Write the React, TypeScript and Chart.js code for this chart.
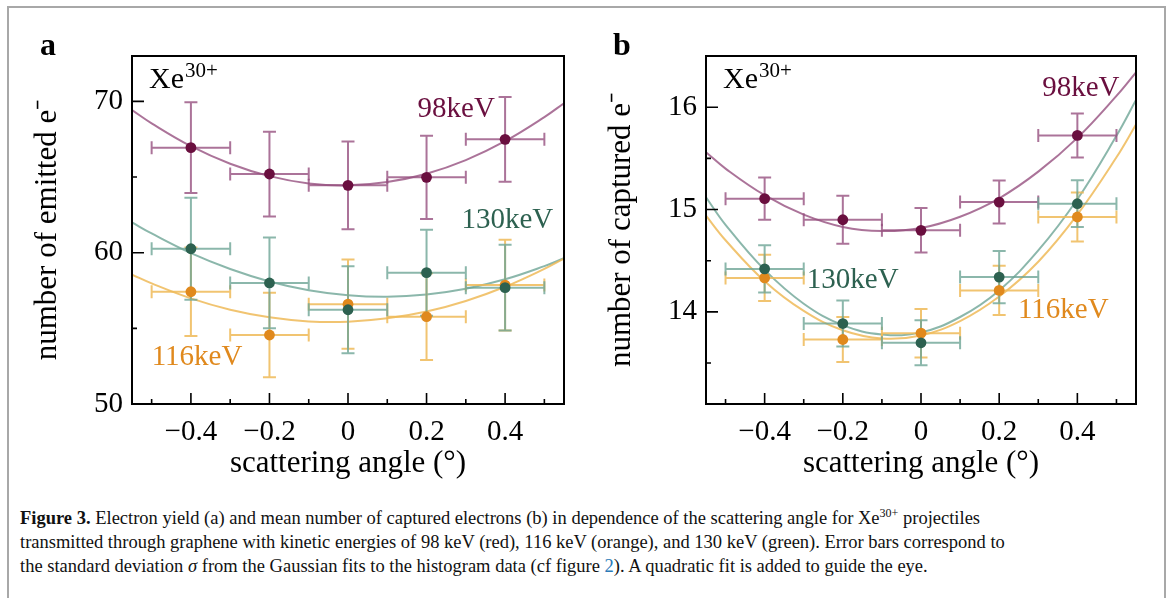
import React, { useEffect, useRef } from "react";
import { Chart, registerables } from "chart.js";

Chart.register(...registerables);

// ---------- data ----------
const angles = [-0.4, -0.2, 0, 0.2, 0.4];
const angleErr = [0.1, 0.1, 0.1, 0.1, 0.1];
const fitAngles = [-0.55, -0.5, -0.4, -0.3, -0.2, -0.1, 0, 0.1, 0.2, 0.3, 0.4, 0.5, 0.55];

const xMajorTicks = [-0.4, -0.2, 0, 0.2, 0.4];
const xTickLabels = ["\u22120.4", "\u22120.2", "0", "0.2", "0.4"];
const xMinorTicks = [-0.5, -0.3, -0.1, 0.1, 0.3, 0.5];

// panel a: number of emitted electrons
const emitted98 = [66.94, 65.2, 64.45, 64.98, 67.49];
const emitted98Err = [3.0, 2.8, 2.9, 2.75, 2.8];
const emitted116 = [57.42, 54.56, 56.6, 55.77, 57.86];
const emitted116Err = [2.93, 2.8, 2.95, 2.87, 3.0];
const emitted130 = [60.26, 58.0, 56.23, 58.68, 57.69];
const emitted130Err = [3.37, 3.0, 2.87, 2.84, 2.83];
const emittedFit98 = [69.43, 68.55, 67.04, 65.88, 65.06, 64.58, 64.45, 64.67, 65.22, 66.12, 67.37, 68.96, 69.88];
const emittedFit116 = [58.55, 57.97, 56.98, 56.23, 55.73, 55.46, 55.44, 55.66, 56.11, 56.81, 57.75, 58.93, 59.61];
const emittedFit130 = [62.0, 61.27, 59.97, 58.92, 58.1, 57.52, 57.19, 57.09, 57.24, 57.62, 58.24, 59.11, 59.63];
const emittedMajorTicks = [50, 60, 70];
const emittedTickLabels = ["50", "60", "70"];
const emittedMinorTicks = [55, 65];

// panel b: number of captured electrons
const captured98 = [15.106, 14.9, 14.797, 15.073, 15.724];
const captured98Err = [0.207, 0.235, 0.218, 0.21, 0.215];
const captured116 = [14.332, 13.73, 13.792, 14.21, 14.927];
const captured116Err = [0.225, 0.22, 0.237, 0.24, 0.24];
const captured130 = [14.42, 13.886, 13.698, 14.34, 15.057];
const captured130Err = [0.23, 0.225, 0.22, 0.255, 0.228];
const capturedFit98 = [15.56, 15.4, 15.14, 14.95, 14.83, 14.79, 14.82, 14.93, 15.11, 15.37, 15.7, 16.11, 16.34];
const capturedFit116 = [14.94, 14.7, 14.3, 14.01, 13.82, 13.74, 13.77, 13.91, 14.15, 14.49, 14.95, 15.51, 15.83];
const capturedFit130 = [15.12, 14.85, 14.41, 14.08, 13.87, 13.78, 13.8, 13.95, 14.21, 14.6, 15.1, 15.72, 16.07];
const capturedMajorTicks = [14, 15, 16];
const capturedTickLabels = ["14", "15", "16"];
const capturedMinorTicks = [13.5, 14.5, 15.5];

// ---------- styling ----------
const FONT = "'Liberation Serif', 'Times New Roman', serif";
const PURPLE = { dark: "#6a0f3f", light: "rgba(150, 80, 128, 0.8)" };
const ORANGE = { dark: "#e0891d", light: "rgba(238, 186, 88, 0.85)" };
const GREEN = { dark: "#2d6150", light: "rgba(110, 165, 150, 0.8)" };

type Series = {
  values: number[];
  errs: number[];
  fit: number[];
  color: { dark: string; light: string };
  label: string;
  lx: number;
  ly: number;
};

type Panel = {
  width: number;
  yMin: number;
  yMax: number;
  yMajor: number[];
  yLabels: string[];
  yMinor: number[];
  yTitle: string;
  yWidth: number;
  yTitlePad: number;
  padRight: number;
  series: Series[];
};

const panelA: Panel = {
  width: 584,
  yMin: 50,
  yMax: 73,
  yMajor: emittedMajorTicks,
  yLabels: emittedTickLabels,
  yMinor: emittedMinorTicks,
  yTitle: "number of emitted e\u207B",
  yWidth: 132,
  yTitlePad: 29,
  padRight: 20,
  series: [
    { values: emitted98, errs: emitted98Err, fit: emittedFit98, color: PURPLE, label: "98keV", lx: 0.177, ly: 68.97 },
    { values: emitted116, errs: emitted116Err, fit: emittedFit116, color: ORANGE, label: "116keV", lx: -0.5, ly: 52.58 },
    { values: emitted130, errs: emitted130Err, fit: emittedFit130, color: GREEN, label: "130keV", lx: 0.289, ly: 61.63 },
  ],
};

const panelB: Panel = {
  width: 584,
  yMin: 13.1,
  yMax: 16.5,
  yMajor: capturedMajorTicks,
  yLabels: capturedTickLabels,
  yMinor: capturedMinorTicks,
  yTitle: "number of captured e\u207B",
  yWidth: 122,
  yTitlePad: 19,
  padRight: 32,
  series: [
    { values: captured98, errs: captured98Err, fit: capturedFit98, color: PURPLE, label: "98keV", lx: 0.31, ly: 16.114 },
    { values: captured116, errs: captured116Err, fit: capturedFit116, color: ORANGE, label: "116keV", lx: 0.248, ly: 13.939 },
    { values: captured130, errs: captured130Err, fit: capturedFit130, color: GREEN, label: "130keV", lx: -0.292, ly: 14.231 },
  ],
};

function buildConfig(p: Panel): any {
  const datasets: any[] = [];
  p.series.forEach((s) =>
    datasets.push({
      type: "line",
      data: fitAngles.map((x, i) => ({ x, y: s.fit[i] })),
      borderColor: s.color.light,
      borderWidth: 2,
      pointRadius: 0,
      tension: 0.4,
      fill: false,
      order: 10,
    })
  );
  p.series.forEach((s, k) =>
    datasets.push({
      type: "scatter",
      data: angles.map((x, i) => ({ x, y: s.values[i] })),
      backgroundColor: s.color.dark,
      borderWidth: 0,
      pointRadius: 5.4,
      order: 3 - k,
    })
  );

  const nFits = p.series.length;

  const plugin = {
    id: "panelDecor",
    beforeDatasetDraw(chart: any, args: any) {
      if (args.index !== nFits) return;
      const ctx = chart.ctx;
      const xs = chart.scales.x;
      const ys = chart.scales.y;
      ctx.save();
      ctx.lineWidth = 2;
      const cap = 6.5;
      p.series.forEach((s) => {
        ctx.strokeStyle = s.color.light;
        angles.forEach((a, i) => {
          const cx = xs.getPixelForValue(a);
          const cy = ys.getPixelForValue(s.values[i]);
          const x0 = xs.getPixelForValue(a - angleErr[i]);
          const x1 = xs.getPixelForValue(a + angleErr[i]);
          const y0 = ys.getPixelForValue(s.values[i] - s.errs[i]);
          const y1 = ys.getPixelForValue(s.values[i] + s.errs[i]);
          ctx.beginPath();
          ctx.moveTo(x0, cy);
          ctx.lineTo(x1, cy);
          ctx.moveTo(x0, cy - cap);
          ctx.lineTo(x0, cy + cap);
          ctx.moveTo(x1, cy - cap);
          ctx.lineTo(x1, cy + cap);
          ctx.moveTo(cx, y0);
          ctx.lineTo(cx, y1);
          ctx.moveTo(cx - cap, y0);
          ctx.lineTo(cx + cap, y0);
          ctx.moveTo(cx - cap, y1);
          ctx.lineTo(cx + cap, y1);
          ctx.stroke();
        });
      });
      ctx.restore();
    },
    afterDraw(chart: any) {
      const ctx = chart.ctx;
      const xs = chart.scales.x;
      const ys = chart.scales.y;
      const { left, right, top, bottom } = chart.chartArea;
      ctx.save();
      // ticks (inside, left and bottom only)
      ctx.strokeStyle = "#000";
      ctx.lineWidth = 1.6;
      ctx.beginPath();
      p.yMajor.forEach((v) => {
        const y = ys.getPixelForValue(v);
        ctx.moveTo(left, y);
        ctx.lineTo(left + 12, y);
      });
      p.yMinor.forEach((v) => {
        const y = ys.getPixelForValue(v);
        ctx.moveTo(left, y);
        ctx.lineTo(left + 5, y);
      });
      xMajorTicks.forEach((v) => {
        const x = xs.getPixelForValue(v);
        ctx.moveTo(x, bottom);
        ctx.lineTo(x, bottom - 11);
      });
      xMinorTicks.forEach((v) => {
        const x = xs.getPixelForValue(v);
        ctx.moveTo(x, bottom);
        ctx.lineTo(x, bottom - 5);
      });
      ctx.stroke();
      // frame
      ctx.lineWidth = 2;
      ctx.strokeRect(left, top, right - left, bottom - top);
      // Xe30+ label
      ctx.fillStyle = "#000";
      ctx.textBaseline = "alphabetic";
      ctx.textAlign = "left";
      ctx.font = `30px ${FONT}`;
      const xl = left + 17;
      const yl = top + 32;
      ctx.fillText("Xe", xl, yl);
      const w = ctx.measureText("Xe").width;
      ctx.font = `21px ${FONT}`;
      ctx.fillText("30+", xl + w + 1, yl - 11);
      // energy labels
      ctx.font = `29px ${FONT}`;
      p.series.forEach((s) => {
        ctx.fillStyle = s.color.dark;
        ctx.fillText(s.label, xs.getPixelForValue(s.lx), ys.getPixelForValue(s.ly));
      });
      ctx.restore();
    },
  };

  return {
    type: "scatter",
    data: { datasets },
    options: {
      animation: false,
      responsive: false,
      events: [],
      layout: { padding: { left: 0, right: p.padRight, top: 56, bottom: 8 } },
      plugins: { legend: { display: false }, tooltip: { enabled: false }, title: { display: false } },
      scales: {
        x: {
          type: "linear",
          min: -0.55,
          max: 0.55,
          grid: { display: false, drawTicks: false },
          border: { display: false },
          afterBuildTicks: (scale: any) => {
            scale.ticks = xMajorTicks.map((v) => ({ value: v }));
          },
          afterFit: (scale: any) => {
            scale.height = 78;
          },
          ticks: {
            autoSkip: false,
            maxRotation: 0,
            padding: 11,
            color: "#000",
            font: { family: FONT, size: 29, lineHeight: 1.2 },
            callback: (_v: any, i: number) => xTickLabels[i],
          },
          title: {
            display: true,
            text: "scattering angle (\u00B0)",
            color: "#000",
            font: { family: FONT, size: 31, lineHeight: 1.2 },
            padding: { top: 0, bottom: 0 },
          },
        },
        y: {
          type: "linear",
          min: p.yMin,
          max: p.yMax,
          grid: { display: false, drawTicks: false },
          border: { display: false },
          afterBuildTicks: (scale: any) => {
            scale.ticks = p.yMajor.map((v) => ({ value: v }));
          },
          afterFit: (scale: any) => {
            scale.width = p.yWidth;
          },
          ticks: {
            autoSkip: false,
            padding: 9,
            color: "#000",
            font: { family: FONT, size: 29, lineHeight: 1.2 },
            callback: (_v: any, i: number) => p.yLabels[i],
          },
          title: {
            display: true,
            text: p.yTitle,
            color: "#000",
            font: { family: FONT, size: 31, lineHeight: 1.2 },
            padding: { top: p.yTitlePad, bottom: 0 },
          },
        },
      },
    },
    plugins: [plugin],
  };
}

const captionStyle: React.CSSProperties = {
  position: "absolute",
  left: 20,
  top: 506,
  fontFamily: FONT,
  fontSize: 18.5,
  lineHeight: "24px",
  color: "#111",
  whiteSpace: "nowrap",
};

export default function App() {
  const refA = useRef<HTMLCanvasElement>(null);
  const refB = useRef<HTMLCanvasElement>(null);

  useEffect(() => {
    const a = new Chart(refA.current as HTMLCanvasElement, buildConfig(panelA));
    const b = new Chart(refB.current as HTMLCanvasElement, buildConfig(panelB));
    return () => {
      a.destroy();
      b.destroy();
    };
  }, []);

  const letter: React.CSSProperties = {
    position: "absolute",
    top: 28,
    fontFamily: FONT,
    fontWeight: "bold",
    fontSize: 32,
    lineHeight: "32px",
    color: "#000",
  };

  return (
    <div style={{ position: "absolute", left: 0, top: 0, width: 1168, height: 598, background: "#fff", overflow: "hidden" }}>
      <div
        style={{
          position: "absolute",
          left: 7,
          top: 6,
          width: 1159,
          height: 640,
          border: "2px solid #a8a8a8",
          boxSizing: "border-box",
        }}
      />
      <canvas ref={refA} width={584} height={490} style={{ position: "absolute", left: 0, top: 0 }} />
      <canvas ref={refB} width={584} height={490} style={{ position: "absolute", left: 584, top: 0 }} />
      <div style={{ ...letter, left: 40 }}>a</div>
      <div style={{ ...letter, left: 613 }}>b</div>
      <div style={captionStyle}>
        <div>
          <b>Figure 3.</b> Electron yield (a) and mean number of captured electrons (b) in dependence of the scattering angle for Xe
          <sup style={{ fontSize: "0.65em", lineHeight: 0 }}>30+</sup> projectiles
        </div>
        <div>
          transmitted through graphene with kinetic energies of 98 keV (red), 116 keV (orange), and 130 keV (green). Error bars correspond to
        </div>
        <div>
          the standard deviation <i>σ</i> from the Gaussian fits to the histogram data (cf figure{" "}
          <span style={{ color: "#2a7ab8" }}>2</span>). A quadratic fit is added to guide the eye.
        </div>
      </div>
    </div>
  );
}
